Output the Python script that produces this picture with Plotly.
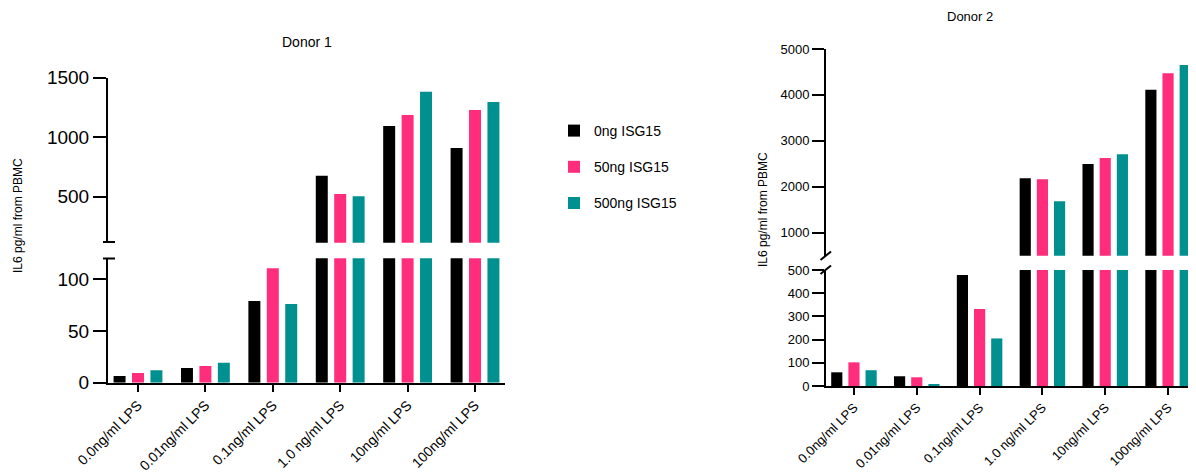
import plotly.graph_objects as go

# page offset (body margin) compensation: screen pixel p -> figure pixel p - OFF
OFF = 8
W, H = 1188, 465

categories = ["0.0ng/ml LPS", "0.01ng/ml LPS", "0.1ng/ml LPS", "1.0 ng/ml LPS", "10ng/ml LPS", "100ng/ml LPS"]
series_names = ["0ng ISG15", "50ng ISG15", "500ng ISG15"]
colors = ["#000000", "#FF2D7B", "#009090"]

donor1_0ng = [6.5, 14.2, 78.9, 676, 1095, 910]
donor1_50ng = [9.4, 16.1, 110.4, 523, 1187, 1229]
donor1_500ng = [12, 19.3, 76, 503, 1381, 1296]

donor2_0ng = [59, 42, 478, 2185, 2497, 4115]
donor2_50ng = [102, 37.5, 332, 2163, 2627, 4473]
donor2_500ng = [68, 8.6, 205, 1684, 2708, 4654]

donor1 = [donor1_0ng, donor1_50ng, donor1_500ng]
donor2 = [donor2_0ng, donor2_50ng, donor2_500ng]

def px_x(p):
    return (p - OFF) / W

def px_y(p):
    return 1 - (p - OFF) / H

fig = go.Figure()

# (data, xaxis, yaxis, showlegend)
panels = [
    (donor1, "x", "y", True),
    (donor1, "x3", "y3", False),
    (donor2, "x2", "y2", False),
    (donor2, "x4", "y4", False),
]
for data, xa, ya, show in panels:
    for name, vals, col in zip(series_names, data, colors):
        fig.add_trace(go.Bar(
            x=categories, y=vals, name=name, marker_color=col,
            marker_line_width=0, xaxis=xa, yaxis=ya,
            showlegend=show, legendgroup=name,
        ))

font_family = "Arial, Liberation Sans, sans-serif"

xcommon = dict(type="category", showgrid=False, zeroline=False, automargin=False)
ycommon = dict(showgrid=False, zeroline=False, showline=True, linecolor="black",
               linewidth=2, ticks="outside", tickcolor="black", tickwidth=2,
               automargin=False)

d1x = [px_x(108), px_x(505)]
d2x = [px_x(826), min(1.0, px_x(1196))]
xr = [-0.445, 5.445]

fig.update_layout(
    width=W, height=H,
    autosize=False,
    margin=dict(l=0, r=0, t=0, b=0, pad=0),
    paper_bgcolor="white", plot_bgcolor="white",
    font=dict(family=font_family, color="black"),
    barmode="group", bargap=0.18, bargroupgap=0.35,
    xaxis=dict(domain=d1x, anchor="y", range=xr, showline=True, linecolor="black",
               linewidth=2, ticks="outside", ticklen=7, tickwidth=2, tickcolor="black",
               tickangle=-45, tickfont=dict(size=14), **xcommon),
    xaxis3=dict(domain=d1x, anchor="y3", range=xr, visible=False, **xcommon),
    xaxis2=dict(domain=d2x, anchor="y2", range=xr, showline=True, linecolor="black",
                linewidth=2, ticks="outside", ticklen=7, tickwidth=2, tickcolor="black",
                tickangle=-45, tickfont=dict(size=13), **xcommon),
    xaxis4=dict(domain=d2x, anchor="y4", range=xr, visible=False, **xcommon),
    yaxis=dict(domain=[px_y(382.7), px_y(258.3)], anchor="x", range=[0, 120],
               tickvals=[0, 50, 100], ticklen=13, tickfont=dict(size=19), **ycommon),
    yaxis3=dict(domain=[px_y(242.7), px_y(77.7)], anchor="x3", range=[113, 1500],
                tickvals=[500, 1000, 1500], ticklen=13, tickfont=dict(size=19), **ycommon),
    yaxis2=dict(domain=[px_y(386), px_y(270)], anchor="x2", range=[0, 500],
                tickvals=[0, 100, 200, 300, 400, 500], ticklen=12, tickfont=dict(size=13), **ycommon),
    yaxis4=dict(domain=[px_y(255.7), px_y(49)], anchor="x4", range=[500, 5000],
                tickvals=[1000, 2000, 3000, 4000, 5000], ticklen=12, tickfont=dict(size=13), **ycommon),
    legend=dict(x=px_x(554), y=px_y(115), xanchor="left", yanchor="top",
                font=dict(size=14), tracegroupgap=15, bgcolor="rgba(0,0,0,0)",
                traceorder="grouped"),
)

annotations = [
    dict(text="Donor 1", x=px_x(307), y=px_y(42), font=dict(size=14)),
    dict(text="Donor 2", x=px_x(970), y=px_y(16), font=dict(size=13)),
    dict(text="IL6 pg/ml from PBMC", x=px_x(18), y=px_y(216), textangle=-90, font=dict(size=12)),
    dict(text="IL6 pg/ml from PBMC", x=px_x(763), y=px_y(210), textangle=-90, font=dict(size=12)),
]
for a in annotations:
    fig.add_annotation(xref="paper", yref="paper", showarrow=False,
                       xanchor="center", yanchor="middle", **a)

# axis break decorations
brk = dict(type="line", xref="paper", yref="paper", line=dict(color="black", width=2))
fig.add_shape(x0=px_x(103), x1=px_x(115), y0=px_y(242), y1=px_y(242), **brk)
fig.add_shape(x0=px_x(103), x1=px_x(115), y0=px_y(258.5), y1=px_y(258.5), **brk)
fig.add_shape(x0=px_x(820.5), x1=px_x(831), y0=px_y(260), y1=px_y(251.5), **brk)
fig.add_shape(x0=px_x(820.5), x1=px_x(831), y0=px_y(274), y1=px_y(265.5), **brk)

fig.write_html("out.html")
